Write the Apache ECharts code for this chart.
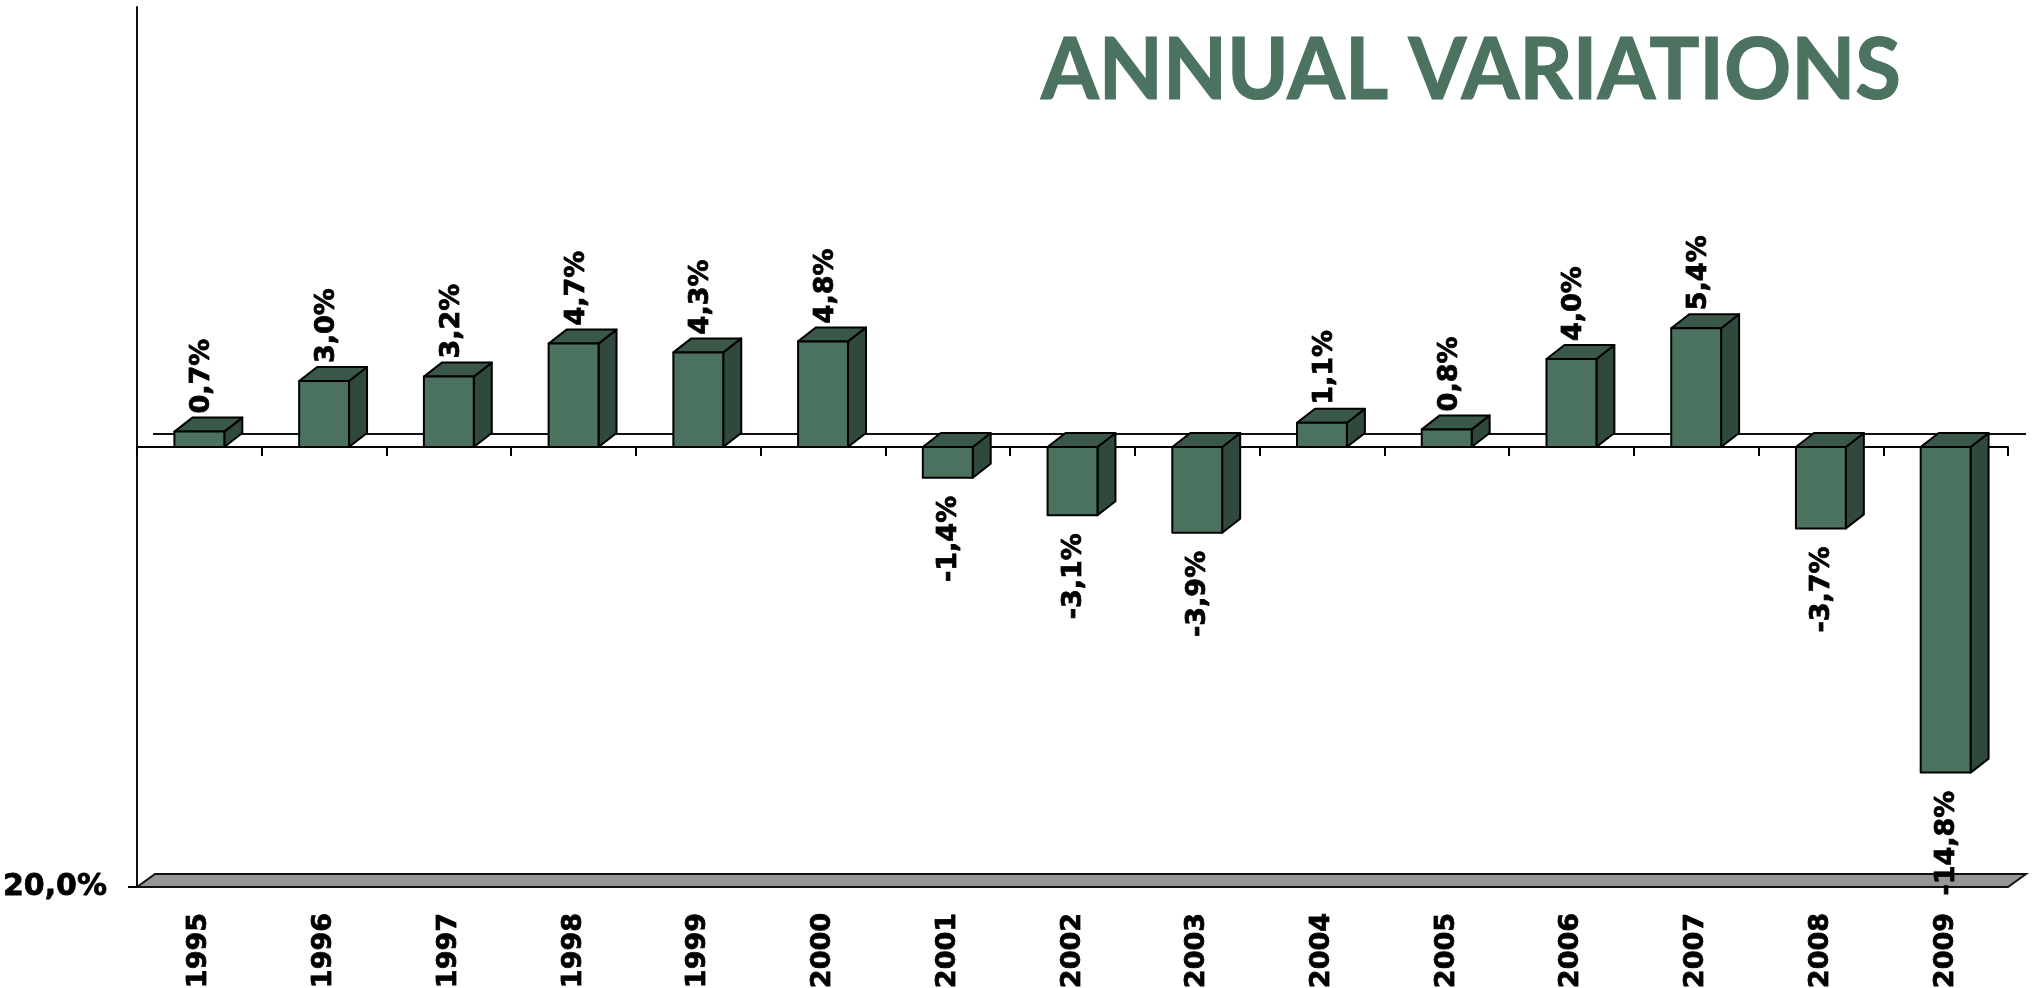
<!DOCTYPE html>
<html>
<head>
<meta charset="utf-8">
<script src="https://cdn.jsdelivr.net/npm/echarts@6/dist/echarts.min.js"></script>
<style>
  html, body { margin: 0; padding: 0; background: #fff; }
  #chart { width: 2034px; height: 988px; }
</style>
</head>
<body>
<div id="chart"></div>
<script>
// data
const years = ['1995', '1996', '1997', '1998', '1999', '2000', '2001', '2002',
  '2003', '2004', '2005', '2006', '2007', '2008', '2009'];
const variations = [0.7, 3.0, 3.2, 4.7, 4.3, 4.8, -1.4, -3.1, -3.9, 1.1, 0.8, 4.0, 5.4, -3.7, -14.8];
const yTickValues = [-20];
const yTickLabels = ['20,0%'];
const titleText = 'ANNUAL VARIATIONS';

const FRONT = '#4b725f';
const TOP = '#3a5847';
const SIDE = '#2f4a3c';
const DX = 18, DY = -14; // depth of the fake 3d
const lbl = (v) => v.toFixed(1).replace('.', ',') + '%';

// fit the title to its width in the reference
const titleFont = 'bold 86px Lato';
const ctx = document.createElement('canvas').getContext('2d');
ctx.font = titleFont;
const titleScale = 860 / ctx.measureText(titleText).width;

const chart = echarts.init(document.getElementById('chart'));

function renderFloor(params, api) {
  const cs = params.coordSys;
  const yb = cs.y + cs.height;
  const y0 = api.coord([0, 0])[1];
  const xl = cs.x, xr = cs.x + cs.width;
  return {
    type: 'group',
    children: [
      {
        type: 'polygon',
        shape: { points: [[xl, yb], [xl + DX, yb + DY + 1], [xr + DX, yb + DY + 1], [xr, yb]] },
        style: { fill: '#969696', stroke: '#111', lineWidth: 2 }
      },
      {
        type: 'line',
        shape: { x1: xl + DX - 2, y1: y0 + DY + 1, x2: xr + DX, y2: y0 + DY + 1 },
        style: { stroke: '#111', lineWidth: 2 }
      }
    ]
  };
}

function renderBar(params, api) {
  const i = api.value(0);
  const v = api.value(1);
  const p0 = api.coord([i, 0]);
  const p1 = api.coord([i, v]);
  const w = api.size([1, 0])[0] * 0.4;
  const l = p0[0] - w / 2, r = p0[0] + w / 2;
  const top = Math.min(p0[1], p1[1]);
  const bot = Math.max(p0[1], p1[1]);
  const edge = { stroke: '#000', lineWidth: 2, lineJoin: 'round' };
  const text = v >= 0
    ? { x: p0[0] + 3, y: top + DY - 4, align: 'left' }
    : { x: p0[0] + 1, y: bot + 18, align: 'right' };
  return {
    type: 'group',
    children: [
      {
        type: 'polygon',
        shape: { points: [[r, top], [r + DX, top + DY], [r + DX, bot + DY], [r, bot]] },
        style: Object.assign({ fill: SIDE }, edge)
      },
      {
        type: 'polygon',
        shape: { points: [[l, top], [l + DX, top + DY], [r + DX, top + DY], [r, top]] },
        style: Object.assign({ fill: TOP }, edge)
      },
      {
        type: 'rect',
        shape: { x: l, y: top, width: w, height: bot - top },
        style: Object.assign({ fill: FRONT }, edge)
      },
      {
        type: 'text',
        x: text.x,
        y: text.y,
        rotation: Math.PI / 2,
        style: {
          text: lbl(v),
          align: text.align,
          verticalAlign: 'middle',
          font: 'bold 27px "DejaVu Sans"',
          fill: '#000',
          stroke: '#000',
          lineWidth: 0.8
        }
      }
    ]
  };
}

const option = {
  animation: false,
  backgroundColor: '#fff',
  grid: { left: 137, right: 26, top: 7, bottom: 101, outerBoundsMode: 'none' },
  graphic: [
    {
      type: 'text',
      x: 1041,
      y: 28,
      scaleX: titleScale,
      style: {
        text: titleText,
        font: titleFont,
        fill: '#4b735f',
        stroke: '#4b735f',
        lineWidth: 1.2,
        align: 'left',
        verticalAlign: 'top'
      }
    }
  ],
  xAxis: [
    {
      type: 'category',
      data: years,
      axisLine: { onZero: true, lineStyle: { color: '#000', width: 2 } },
      axisTick: { show: true, length: 9, lineStyle: { color: '#000', width: 2 } },
      axisLabel: { show: false },
      splitLine: { show: false }
    },
    {
      type: 'category',
      data: years,
      position: 'bottom',
      axisLine: { show: false, onZero: false },
      axisTick: { show: false },
      axisLabel: {
        rotate: 90,
        margin: 26,
        fontFamily: 'DejaVu Sans',
        fontWeight: 'bold',
        fontSize: 27,
        color: '#000',
        textBorderColor: '#000',
        textBorderWidth: 0.8
      }
    }
  ],
  yAxis: {
    type: 'value',
    min: -20,
    max: 20,
    interval: 20,
    splitLine: { show: false },
    axisLine: { show: true, lineStyle: { color: '#111', width: 2 } },
    axisTick: { show: true, customValues: yTickValues, length: 9, lineStyle: { color: '#000', width: 2 } },
    axisLabel: {
      customValues: yTickValues,
      margin: 30,
      fontFamily: 'DejaVu Sans',
      fontWeight: 'bold',
      fontSize: 30,
      color: '#000',
      textBorderColor: '#000',
      textBorderWidth: 0.8,
      formatter: (val) => yTickLabels[yTickValues.indexOf(val)] || ''
    }
  },
  series: [
    {
      type: 'custom',
      name: 'floor',
      z: 1,
      silent: true,
      clip: false,
      renderItem: renderFloor,
      data: [[0, 0]]
    },
    {
      type: 'custom',
      name: 'Annual variations',
      z: 3,
      clip: false,
      renderItem: renderBar,
      encode: { x: 0, y: 1 },
      data: variations.map((v, i) => [i, v])
    }
  ]
};

chart.setOption(option);
</script>
</body>
</html>
